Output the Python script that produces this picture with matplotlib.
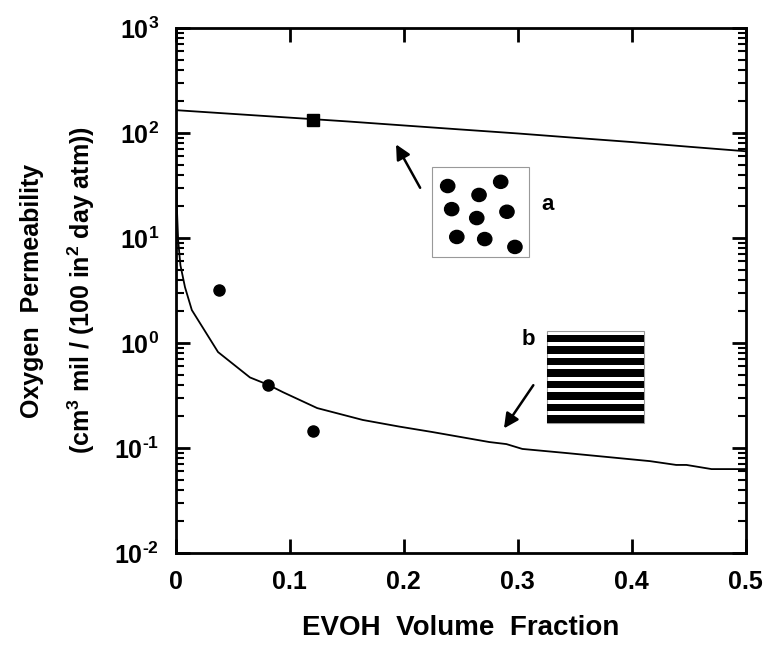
import matplotlib
matplotlib.use("Agg")
import matplotlib.pyplot as plt
from matplotlib.patches import Rectangle, Circle
from matplotlib.ticker import FixedLocator, FixedFormatter, LogLocator, NullFormatter
import numpy as np

plt.rcParams['font.family'] = ['Liberation Sans', 'DejaVu Sans']
plt.rcParams['font.weight'] = 'bold'
plt.rcParams['mathtext.fontset'] = 'custom'
plt.rcParams['mathtext.rm'] = 'Liberation Sans:bold'
plt.rcParams['mathtext.bf'] = 'Liberation Sans:bold'
plt.rcParams['mathtext.default'] = 'bf'
plt.rcParams['axes.unicode_minus'] = False

# upper bound curve (a: dispersed particles)
upper_x = [0.0, 0.05, 0.10, 0.15, 0.20, 0.25, 0.30, 0.35, 0.40, 0.45, 0.50]
upper_y = [165, 152, 140, 129, 118, 108, 99, 90, 82, 74, 67]

# lower bound curve (b: lamellar)
lower_x = [0.0, 0.0005, 0.001, 0.002, 0.004, 0.008, 0.014, 0.037, 0.065, 0.081,
           0.094, 0.124, 0.164, 0.196, 0.225, 0.275, 0.29, 0.304, 0.343, 0.416,
           0.439, 0.448, 0.470, 0.50]
lower_y = [165, 40, 18, 9.5, 5.5, 3.4, 2.06, 0.82, 0.47, 0.40,
           0.34, 0.24, 0.185, 0.16, 0.142, 0.114, 0.109, 0.098, 0.0895, 0.075,
           0.069, 0.069, 0.063, 0.063]

# measured points
circle_x = [0.038, 0.081, 0.120]
circle_y = [3.2, 0.40, 0.145]
square_x = [0.120]
square_y = [134]

x_ticks = [0, 0.1, 0.2, 0.3, 0.4, 0.5]
x_labels = ['0', '0.1', '0.2', '0.3', '0.4', '0.5']
y_ticks = [1e-2, 1e-1, 1e0, 1e1, 1e2, 1e3]
y_labels = [r'10$^{\text{-}2}$', r'10$^{\text{-}1}$', r'10$^{0}$',
            r'10$^{1}$', r'10$^{2}$', r'10$^{3}$']

fig = plt.figure(figsize=(7.68, 6.45), dpi=100)
ax = fig.add_axes([0.229, 0.1426, 0.742, 0.814])

ax.plot(upper_x, upper_y, color='black', lw=1.3)
ax.plot(lower_x, lower_y, color='black', lw=1.3)
ax.plot(circle_x, circle_y, 'o', color='black', ms=8)
ax.plot(square_x, square_y, 's', color='black', ms=8)

ax.set_yscale('log')
ax.set_xlim(0, 0.5)
ax.set_ylim(1e-2, 1e3)
ax.xaxis.set_major_locator(FixedLocator(x_ticks))
ax.xaxis.set_major_formatter(FixedFormatter(x_labels))
ax.yaxis.set_major_locator(FixedLocator(y_ticks))
ax.yaxis.set_major_formatter(FixedFormatter(y_labels))
ax.yaxis.set_minor_locator(LogLocator(base=10, subs=np.arange(2, 10), numticks=20))
ax.yaxis.set_minor_formatter(NullFormatter())

ax.tick_params(which='both', direction='in', top=True, right=True, width=2)
ax.tick_params(which='major', length=10, labelsize=18, pad=12)
ax.tick_params(which='minor', length=6, width=1.5)
for s in ax.spines.values():
    s.set_linewidth(2)

ax.set_xlabel('EVOH  Volume  Fraction', fontsize=20, fontweight='bold', labelpad=15)
ax.set_ylabel('Oxygen  Permeability\n(cm$^3$ mil / (100 in$^2$ day atm))',
              fontsize=18, fontweight='bold', labelpad=12, linespacing=1.9)

# inset a: dispersed particles
axa = ax.transAxes
ax.add_patch(Rectangle((0.450, 0.564), 0.169, 0.171, transform=axa, fill=False,
                       edgecolor='#999999', lw=0.8))
dots = [(0.477, 0.699), (0.532, 0.682), (0.570, 0.707), (0.484, 0.655),
        (0.528, 0.638), (0.581, 0.650), (0.493, 0.602), (0.542, 0.598), (0.595, 0.583)]
for cx, cy in dots:
    ax.add_patch(Circle((cx, cy), 0.0125, transform=axa, color='black'))
ax.text(0.653, 0.663, 'a', transform=axa, fontsize=16, fontweight='bold',
        ha='center', va='center')

# inset b: lamellae
ax.add_patch(Rectangle((0.651, 0.248), 0.170, 0.175, transform=axa, fill=False,
                       edgecolor='#999999', lw=0.8))
n_stripes = 8
h = 0.175 / n_stripes
for i in range(n_stripes):
    ax.add_patch(Rectangle((0.651, 0.248 + i * h), 0.170, h * 0.68,
                           transform=axa, color='black', lw=0))
ax.text(0.618, 0.406, 'b', transform=axa, fontsize=16, fontweight='bold',
        ha='center', va='center')

# arrows
ax.annotate('', xy=(0.384, 0.783), xytext=(0.431, 0.691), xycoords=axa,
            arrowprops=dict(arrowstyle='-|>', color='black', lw=1.8,
                            mutation_scale=22))
ax.annotate('', xy=(0.573, 0.233), xytext=(0.630, 0.324), xycoords=axa,
            arrowprops=dict(arrowstyle='-|>', color='black', lw=1.8,
                            mutation_scale=22))

fig.savefig('out.png', dpi=100)
